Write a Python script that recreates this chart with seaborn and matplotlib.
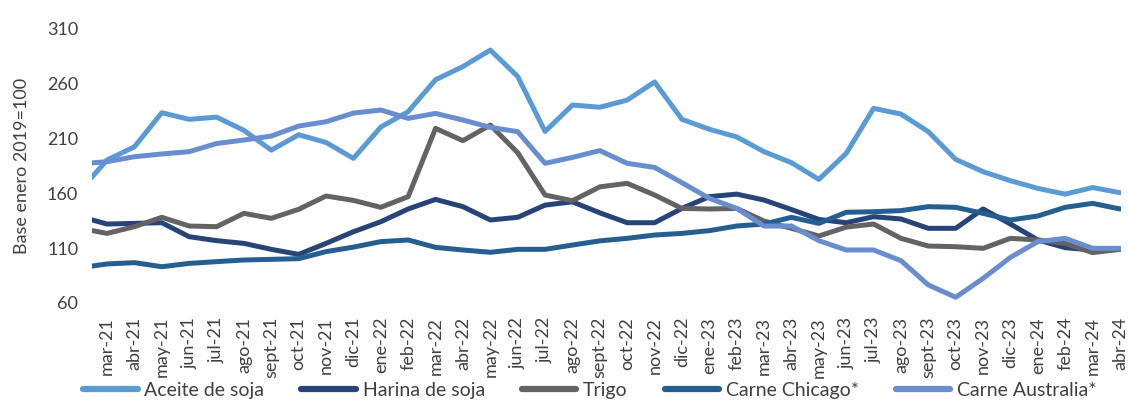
import pandas as pd
import matplotlib
matplotlib.use('Agg')
import matplotlib.pyplot as plt
import seaborn as sns

# first entry (feb-21) only shows as the clipped stub at the left edge
months = ['feb-21', 'mar-21', 'abr-21', 'may-21', 'jun-21', 'jul-21', 'ago-21', 'sept-21', 'oct-21',
          'nov-21', 'dic-21', 'ene-22', 'feb-22', 'mar-22', 'abr-22', 'may-22', 'jun-22',
          'jul-22', 'ago-22', 'sept-22', 'oct-22', 'nov-22', 'dic-22', 'ene-23', 'feb-23',
          'mar-23', 'abr-23', 'may-23', 'jun-23', 'jul-23', 'ago-23', 'sept-23', 'oct-23',
          'nov-23', 'dic-23', 'ene-24', 'feb-24', 'mar-24', 'abr-24']

aceite = [162, 190, 202, 233, 227, 229, 217, 199, 213, 206, 191.5, 220, 234, 263, 275, 290,
          266, 216, 240, 238, 244.5, 261, 227, 218, 211, 197.6, 187.6, 172.4, 196, 237,
          231.8, 215.8, 190.6, 179.4, 171.2, 164.2, 159, 165, 160.3]
harina = [138.6, 131.8, 132.4, 133, 120.3, 116.7, 114.2, 108.8, 104.2, 114.2, 124.8, 133.9,
          145.5, 154.2, 147.6, 135.5, 137.9, 149, 152, 142, 133, 133, 146, 156.7, 159, 153.6,
          145, 136, 133, 138.5, 136.4, 127.9, 127.9, 145.5, 131.8, 117.3, 110.3, 108.2, 108.8]
trigo = [128, 123.3, 129.4, 137.9, 130, 129.4, 141.5, 137, 145.2, 157.3, 153.3, 147, 156.7,
         218.8, 207.6, 221.8, 196.7, 158.2, 153, 165.6, 168.8, 158.2, 146, 145.5, 146, 134.5,
         127.9, 120.9, 129, 131.8, 118.8, 111.8, 111.2, 109.7, 118.8, 117.3, 114.2, 105.8, 108.8]
chicago = [92, 95.5, 96.7, 93, 96, 97.6, 99.1, 99.7, 100.3, 106.7, 110.8, 115.8, 117.3, 110.6,
           108.2, 106.1, 108.8, 108.8, 112.7, 116.5, 118.8, 121.8, 123.3, 125.8, 130, 131.8,
           137.9, 132.4, 142.5, 143, 144, 147.6, 147, 141.5, 135.5, 139.1, 147, 150.6, 145.5]
australia = [186.5, 188.5, 193, 195.5, 197.6, 205, 208.2, 211.8, 220.9, 224.8, 232.7, 235.5,
             227.9, 232.4, 226.4, 219.7, 215.8, 187, 192.4, 198.6, 187, 183.3, 169.4, 155.2,
             146, 130, 130, 116.7, 108.2, 108.2, 98.5, 76.4, 65.2, 82.4, 101.5, 115.8, 118.8,
             109.7, 109.7]

series = {
    'Aceite de soja': aceite,
    'Harina de soja': harina,
    'Trigo': trigo,
    'Carne Chicago*': chicago,
    'Carne Australia*': australia,
}
colors = ['#5B9BD5', '#264478', '#636363', '#255E91', '#698ED0']

rows = []
for name, vals in series.items():
    for i, v in enumerate(vals):
        rows.append({'idx': i - 1, 'mes': months[i], 'serie': name, 'valor': v})
df = pd.DataFrame(rows)

sns.set_style('white')
plt.rcParams['font.family'] = ['Lato', 'DejaVu Sans']
txt = '#404040'

fig = plt.figure(figsize=(11.28, 4.01), dpi=100)
ax = fig.add_axes([0.0816, 0.2444, 0.9125, 0.6856])

sns.lineplot(data=df, x='idx', y='valor', hue='serie', palette=colors, ax=ax,
             linewidth=3.6, solid_capstyle='round', solid_joinstyle='round')

handles, labels = ax.get_legend_handles_labels()
ax.legend_.remove()

ax.set_xlim(-0.547, 37.05)
ax.set_ylim(60, 310)
ax.set_yticks(range(60, 311, 50))
ax.set_xticks(range(0, 38))
ax.set_xticklabels(months[1:], rotation=90)
ax.tick_params(axis='x', length=0, pad=10, labelsize=13, labelcolor=txt)
ax.tick_params(axis='y', length=0, pad=10, labelsize=13, labelcolor=txt)
ax.set_xlabel('')
ax.set_ylabel('Base enero 2019=100', fontsize=13, color=txt, labelpad=12)
sns.despine(ax=ax, left=True, bottom=True)

for h in handles:
    h.set_linewidth(4.5)
fig.legend(handles, labels, loc='lower center', bbox_to_anchor=(0.523, -0.038), ncol=5,
           frameon=False, fontsize=14, handlelength=2.8, handletextpad=0.35,
           columnspacing=1.9, labelcolor=txt)

fig.savefig('out.png', dpi=100, facecolor='white')
